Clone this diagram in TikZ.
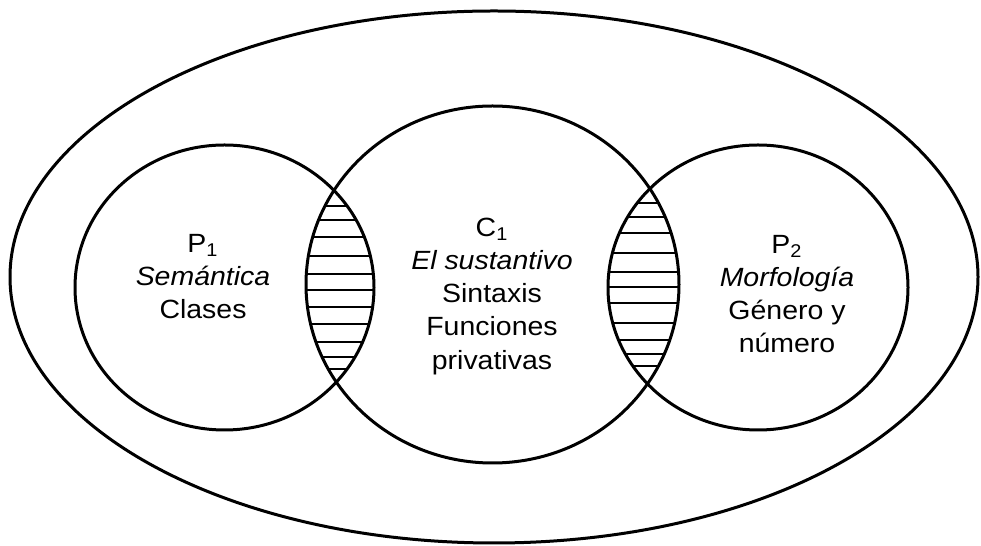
\documentclass[tikz,border=0pt]{standalone}
\usepackage{fontspec}
\setmainfont{Liberation Sans}
\usetikzlibrary{positioning}

\tikzset{
  ring/.style={black, line width=0.6mm},
  hatchline/.style={black, line width=0.3mm},
  areatext/.style={align=center, xscale=1.08, font=\fontsize{15}{18.8}\selectfont}
}

\begin{document}
\begin{tikzpicture}[x=0.02cm, y=-0.02cm]
\useasboundingbox (0,0) rectangle (981,546);

% outer ellipse
\draw[ring] (494,277) ellipse [x radius=484, y radius=266];

% the three circles
\draw[ring] (224.5,287.5) ellipse [x radius=149.5, y radius=142.5];
\draw[ring] (492.5,284.5) ellipse [x radius=186.5, y radius=178.5];
\draw[ring] (758,287.5) ellipse [x radius=150, y radius=142.5];

%hatching
{
\begin{scope}
\clip (224.5,287.5) ellipse [x radius=149.5, y radius=142.5];
\clip (492.5,284.5) ellipse [x radius=186.5, y radius=178.5];
\foreach \y in {206,220,237,256,274,290,307,324,342,357,369}
  \draw[hatchline] (290,\y)--++(100,0);
\end{scope}

\begin{scope}
\clip (758,287.5) ellipse [x radius=150, y radius=142.5];
\clip (492.5,284.5) ellipse [x radius=186.5, y radius=178.5];
\foreach \y in {203,217,233,253,272,287,303,323,340,354,366}
  \draw[hatchline] (595,\y)--++(100,0);
\end{scope}
}

% nodes
{
\node[areatext] (left) at (203,277)
  {P\textsubscript{1}\\ \textit{Semántica}\\ Clases};
\node[areatext] (middle) at (492,296.5)
  {C\textsubscript{1}\\ \textit{El sustantivo}\\ Sintaxis\\ Funciones\\ privativas};
\node[areatext] (right) at (787,294)
  {P\textsubscript{2}\\ \textit{Morfología}\\ Género y\\ número};
}

\end{tikzpicture}
\end{document}
